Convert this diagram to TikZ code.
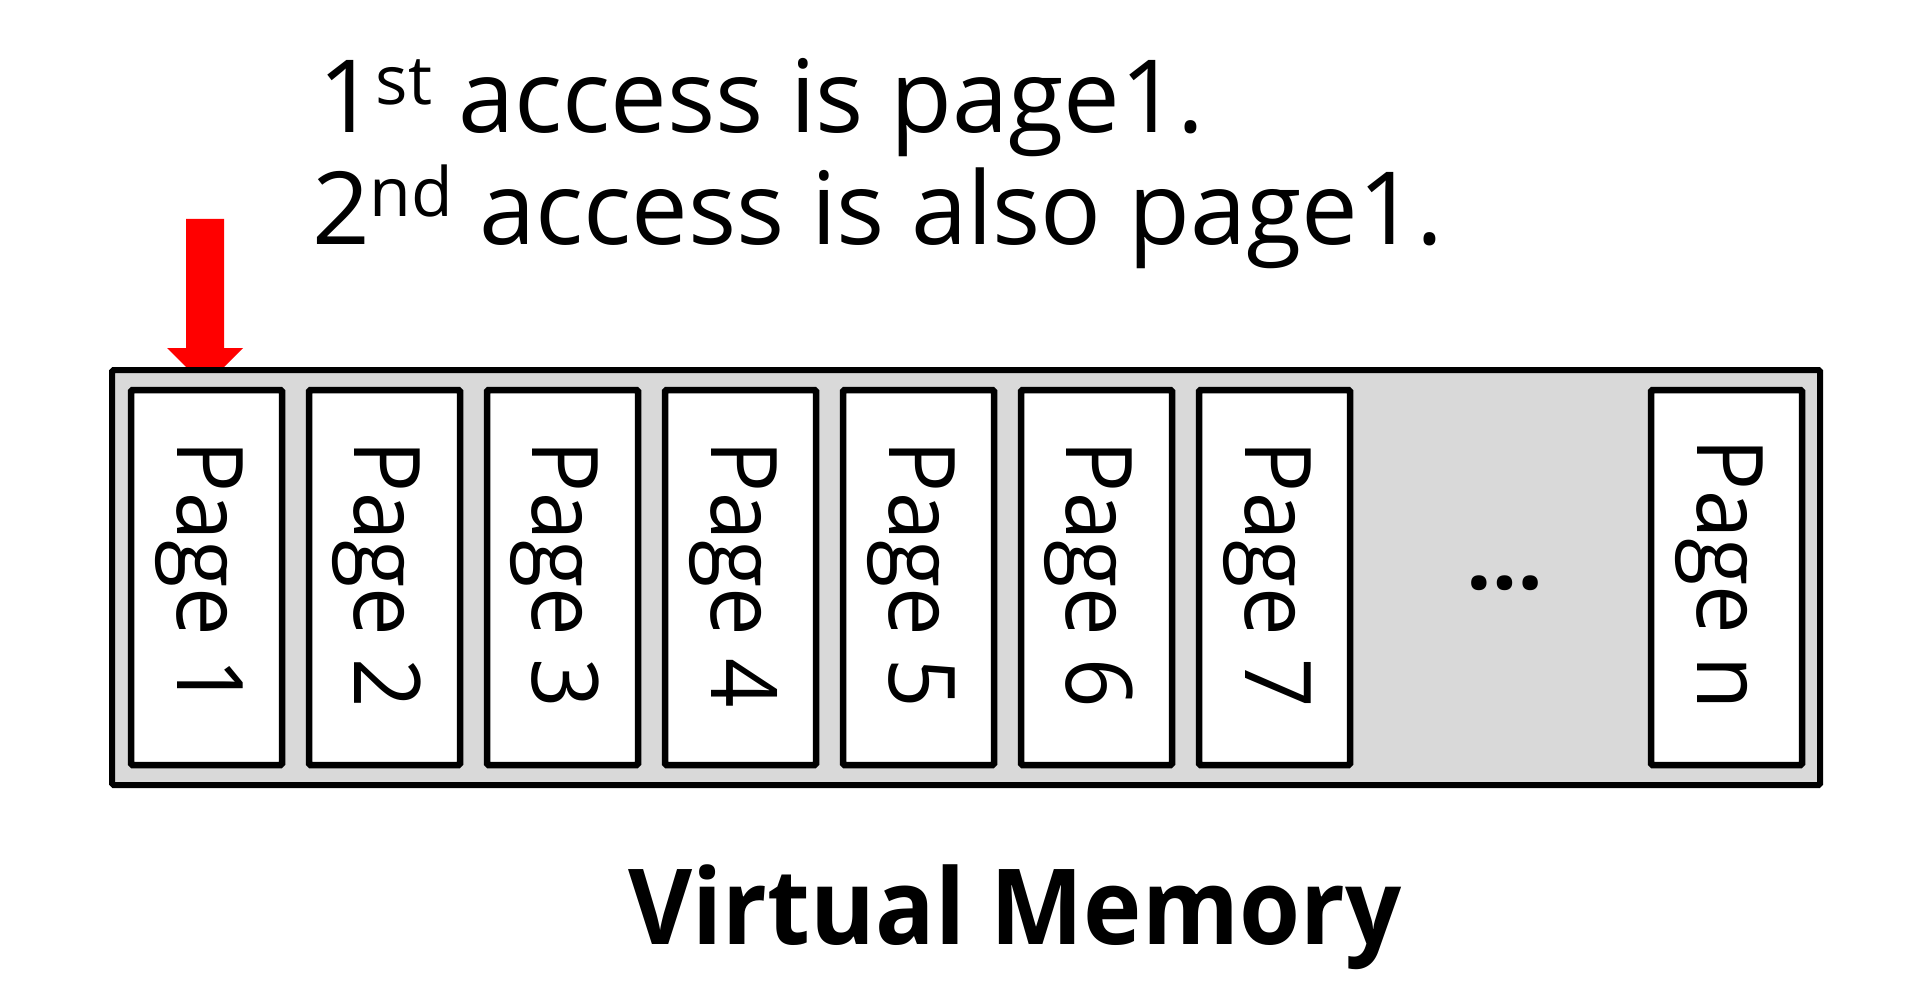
\documentclass[tikz,border=0pt]{standalone}
\usepackage{fontspec}
\setmainfont{Open Sans}
\definecolor{memgray}{HTML}{D9D9D9}
\definecolor{arrred}{HTML}{FF0000}
\tikzset{
  x=1pt, y=-1pt,
  pagebox/.style={draw=black, line width=6.5pt, fill=white, rounded corners=1.5pt},
  memframe/.style={draw=black, line width=6pt, fill=memgray, rounded corners=1.5pt},
  pagelabel/.style={rotate=-90, font=\fontsize{92}{92}\selectfont, inner sep=0pt},
  titletext/.style={font=\fontsize{101}{112}\selectfont, inner sep=0pt, anchor=base west},
  pointer/.style={fill=arrred, draw=none}
}
\newcommand{\supsc}[2]{{\fontsize{68}{68}\selectfont\raisebox{#1pt}{#2}}}
\newcommand{\plab}[1]{\scalebox{0.94}[1]{Page #1}}
\begin{document}
\begin{tikzpicture}
\useasboundingbox (0,0) rectangle (1930,1000);
% title
\node[titletext] (t1) at (318,133) {1\supsc{28}{st} access is page1.};
\node[titletext] (t2) at (312,245) {2\supsc{28}{nd} access is also page1.};
% pointer arrow
\coordinate (ptop) at (205,219);
\fill[pointer] (186,219) -- (224,219) -- (224,348) -- (243,348) -- (205,386) -- (167,348) -- (186,348) -- cycle;
% memory frame
\draw[memframe] (112,370) rectangle (1820,785);
% pages
\foreach \i/\lab in {1/1,2/2,3/3,4/4,5/5,6/6,7/7} {
  \pgfmathsetmacro{\xl}{131+178*(\i-1)}
  \draw[pagebox] (\xl,390) rectangle ++(151,375);
  \node[pagelabel] (p\i) at (\xl+68,574) {\plab{\lab}};
}
\draw[pagebox] (1651,390) rectangle (1802,765);
\node[pagelabel] (pn) at (1719,574) {\plab{n}};
\node[font=\fontsize{90}{90}\selectfont\bfseries, inner sep=0pt, anchor=base] (dots) at (1505,589) {…};
% caption
\node[font=\fontsize{105}{105}\selectfont\bfseries, inner sep=0pt, anchor=base] (cap) at (1015,944) {\scalebox{0.94}[1]{Virtual Memory}};
\end{tikzpicture}
\end{document}
